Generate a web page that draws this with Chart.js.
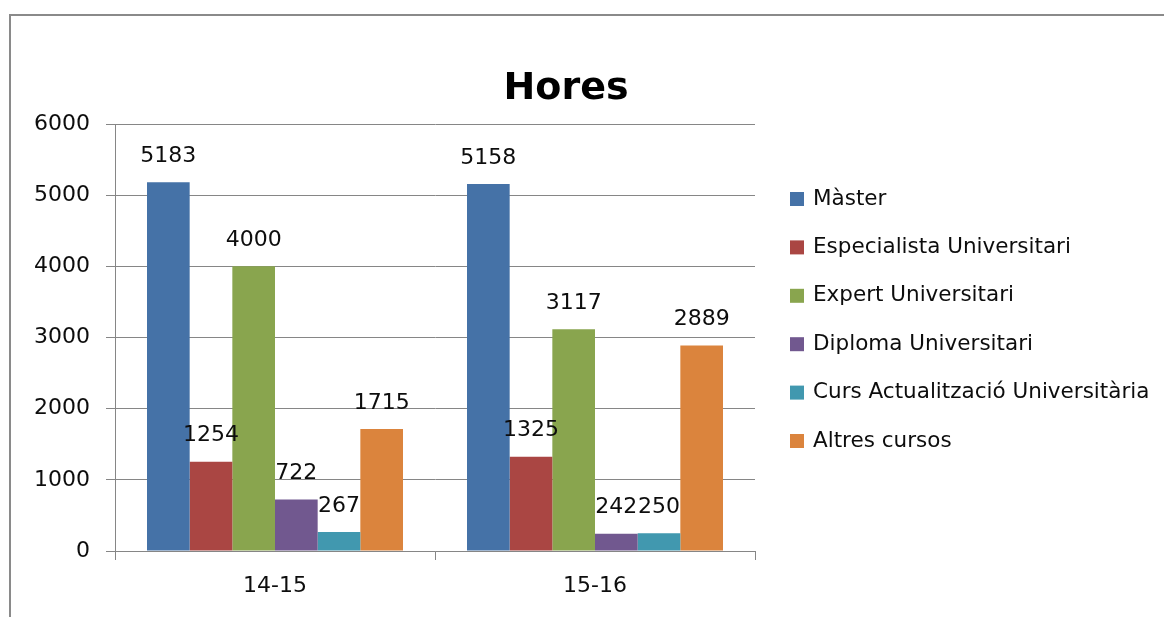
<!DOCTYPE html>
<html>
<head>
<meta charset="utf-8">
<script src="https://cdn.jsdelivr.net/npm/chart.js@4/dist/chart.umd.min.js"></script>
<style>
  html, body { margin:0; padding:0; background:#fff; overflow:hidden; }
  #frame { position:absolute; left:9px; top:14px; width:2000px; height:2000px;
           border-left:2px solid #8a8a8a; border-top:2px solid #8a8a8a; }
  #wrap { position:absolute; left:0; top:0; width:1164px; height:617px; }
</style>
</head>
<body>
<div id="frame"></div>
<div id="wrap"><canvas id="chart" width="1164" height="617"></canvas></div>
<script>
// --- data ---
const categories = ['14-15', '15-16'];
const master       = [5183, 5158];
const especialista = [1254, 1325];
const expert       = [4000, 3117];
const diploma      = [722, 242];
const curs         = [267, 250];
const altres       = [1715, 2889];
const yTicks = [0, 1000, 2000, 3000, 4000, 5000, 6000];

const FONT = 'DejaVu Sans';
const TXT = '#0d0d0d';
const GRID = '#868686';

const series = [
  { label: 'Màster',                          data: master,       color: '#4572A7' },
  { label: 'Especialista Universitari',       data: especialista, color: '#AA4643' },
  { label: 'Expert Universitari',             data: expert,       color: '#89A54E' },
  { label: 'Diploma Universitari',            data: diploma,      color: '#71588F' },
  { label: 'Curs Actualització Universitària', data: curs,        color: '#4198AF' },
  { label: 'Altres cursos',                   data: altres,       color: '#DB843D' },
];

// title, value labels and legend drawn on the canvas
const extras = {
  id: 'extras',
  afterDatasetsDraw(chart){
    const ctx = chart.ctx;
    ctx.save();
    // value labels above each bar
    ctx.font = `22px "${FONT}"`;
    ctx.fillStyle = TXT;
    ctx.textAlign = 'center';
    ctx.textBaseline = 'middle';
    chart.data.datasets.forEach((ds, i) => {
      chart.getDatasetMeta(i).data.forEach((bar, j) => {
        ctx.fillText(String(ds.data[j]), bar.x, bar.y - 26);
      });
    });
    // title
    ctx.font = `bold 38px "${FONT}"`;
    ctx.fillStyle = '#000';
    ctx.textBaseline = 'alphabetic';
    ctx.fillText('Hores', 566, 99);
    // legend
    ctx.font = `21.5px "${FONT}"`;
    ctx.textAlign = 'left';
    ctx.textBaseline = 'middle';
    chart.data.datasets.forEach((ds, i) => {
      const y = 199 + i * 48.4;
      ctx.fillStyle = ds.backgroundColor;
      ctx.fillRect(790, y - 7, 14, 14);
      ctx.fillStyle = TXT;
      ctx.fillText(ds.label, 813, y);
    });
    ctx.restore();
  }
};

new Chart(document.getElementById('chart'), {
  type: 'bar',
  data: {
    labels: categories,
    datasets: series.map(s => ({
      label: s.label, data: s.data, backgroundColor: s.color, borderWidth: 0,
      categoryPercentage: 0.8, barPercentage: 1
    }))
  },
  options: {
    responsive: false, animation: false,
    layout: { padding: { top: 124, right: 409, left: 0, bottom: 0 } },
    plugins: { legend: { display: false }, title: { display: false }, tooltip: { enabled: false } },
    scales: {
      x: {
        afterFit: s => { s.height = 66; },
        grid: { drawOnChartArea: false, offset: true, tickLength: 9, color: GRID },
        border: { color: GRID },
        ticks: { font: { family: FONT, size: 22 }, color: TXT, padding: 13 }
      },
      y: {
        min: 0, max: 6000,
        afterFit: s => { s.width = 115; },
        afterBuildTicks: s => { s.ticks = yTicks.map(v => ({ value: v })); },
        grid: { color: GRID, tickLength: 9 },
        border: { color: GRID },
        ticks: { font: { family: FONT, size: 22 }, color: TXT, padding: 16,
                 callback: v => String(v) }
      }
    }
  },
  plugins: [extras]
});
</script>
</body>
</html>
